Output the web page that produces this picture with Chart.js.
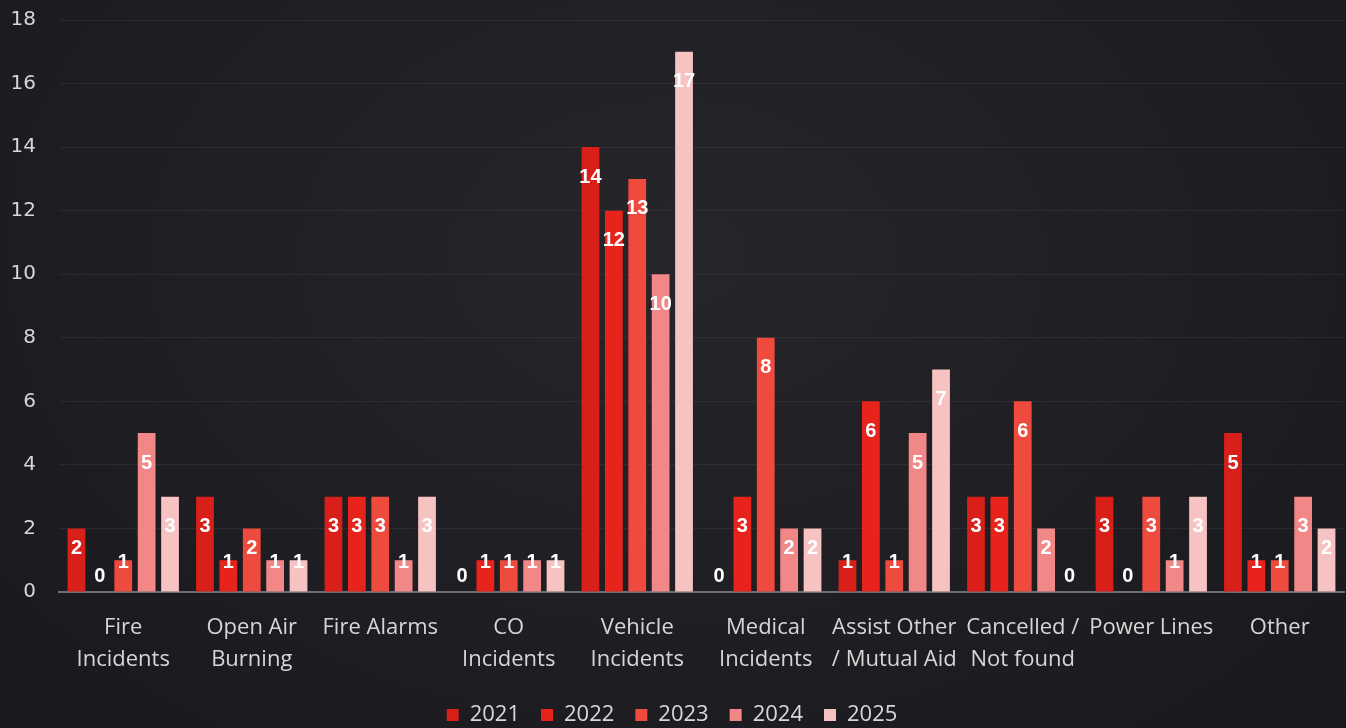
<!DOCTYPE html>
<html>
<head>
<meta charset="utf-8">
<title>Incidents by Type</title>
<script src="https://cdn.jsdelivr.net/npm/chart.js@4/dist/chart.umd.min.js"></script>
<style>
    html, body {
        margin: 0;
        padding: 0;
        width: 1346px;
        height: 728px;
        overflow: hidden;
        background: radial-gradient(ellipse at 50% 35%, #262529 0%, #1f1e22 55%, #19181c 100%);
    }
    #wrap {
        position: relative;
        width: 1346px;
        height: 728px;
    }
</style>
</head>
<body>
<div id="wrap"><canvas id="incidents-chart" width="1346" height="728"></canvas></div>
<script>
// Incident categories (multi-line labels)
const categories = [
    ["Fire", "Incidents"],
    ["Open Air", "Burning"],
    ["Fire Alarms"],
    ["CO", "Incidents"],
    ["Vehicle", "Incidents"],
    ["Medical", "Incidents"],
    ["Assist Other", "/ Mutual Aid"],
    ["Cancelled /", "Not found"],
    ["Power Lines"],
    ["Other"]
];

const years = ["2021", "2022", "2023", "2024", "2025"];

// Counts per year, in category order
const counts2021 = [2, 3, 3, 0, 14, 0, 1, 3, 3, 5];
const counts2022 = [0, 1, 3, 1, 12, 3, 6, 3, 0, 1];
const counts2023 = [1, 2, 3, 1, 13, 8, 1, 6, 3, 1];
const counts2024 = [5, 1, 1, 1, 10, 2, 5, 2, 1, 3];
const counts2025 = [3, 1, 3, 1, 17, 2, 7, 0, 3, 2];

const yearColors = ["#d81f1a", "#e8231b", "#ee4a3e", "#f28787", "#f6c2c2"];

const seriesData = [counts2021, counts2022, counts2023, counts2024, counts2025];

// White value labels, placed just inside the top of each bar
const valueLabels = {
    id: "valueLabels",
    afterDatasetsDraw(chart) {
        const ctx = chart.ctx;
        const yScale = chart.scales.y;
        const base = yScale.getPixelForValue(0);
        ctx.save();
        ctx.font = "bold 20px 'Liberation Sans', Arial, sans-serif";
        ctx.fillStyle = "#ffffff";
        ctx.textAlign = "center";
        ctx.textBaseline = "middle";
        chart.data.datasets.forEach((ds, i) => {
            const meta = chart.getDatasetMeta(i);
            meta.data.forEach((bar, j) => {
                const h = base - bar.y;
                const offset = Math.min(30, h * 0.57 - 16);
                ctx.fillText(String(ds.data[j]), bar.x, bar.y + offset);
            });
        });
        ctx.restore();
    }
};

const ctx = document.getElementById("incidents-chart").getContext("2d");
const chart = new Chart(ctx, {
    type: "bar",
    data: {
        labels: categories,
        datasets: years.map((year, i) => ({
            label: year,
            data: seriesData[i],
            backgroundColor: yearColors[i],
            borderWidth: 0,
            barPercentage: 0.76,
            categoryPercentage: 0.91
        }))
    },
    options: {
        responsive: false,
        animation: false,
        devicePixelRatio: 1,
        layout: {
            padding: { top: 20, right: 2, left: 0, bottom: -8 }
        },
        scales: {
            x: {
                grid: { display: false, drawTicks: false },
                border: { display: true, color: "#6e6e72", width: 2 },
                ticks: {
                    color: "#d6d6d6",
                    padding: 20,
                    maxRotation: 0,
                    autoSkip: false,
                    font: { family: "'Open Sans', sans-serif", size: 22, lineHeight: 1.45 }
                },
                afterFit(scale) { scale.height = 91; }
            },
            y: {
                min: 0,
                max: 18,
                ticks: {
                    stepSize: 2,
                    color: "#d6d6d6",
                    padding: 23,
                    font: { family: "'DejaVu Sans', sans-serif", size: 20 }
                },
                grid: { color: "rgba(255,255,255,0.06)", lineWidth: 1, drawTicks: false },
                border: { display: false },
                afterFit(scale) {
                    scale.width = 59;
                    // tick padding is horizontal only here; keep the top edge tight
                    scale.paddingTop = 12;
                    scale.paddingBottom = 12;
                }
            }
        },
        plugins: {
            legend: {
                position: "bottom",
                labels: {
                    color: "#d8d8d8",
                    boxWidth: 12,
                    boxHeight: 12,
                    padding: 21,
                    font: { family: "'Open Sans', sans-serif", size: 22 }
                }
            },
            tooltip: { enabled: false }
        }
    },
    plugins: [valueLabels]
});
</script>
</body>
</html>
